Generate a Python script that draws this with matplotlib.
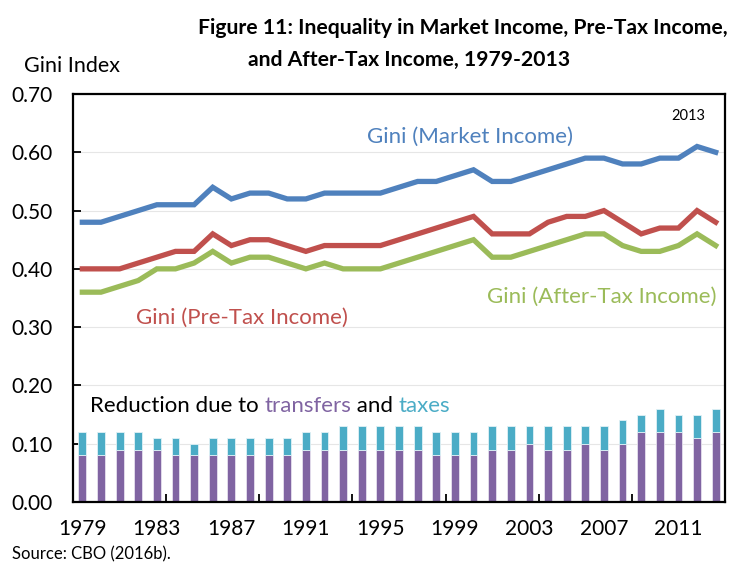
import numpy as np
import matplotlib.pyplot as plt

plt.rcParams['font.family'] = ['Lato', 'DejaVu Sans']

years = list(range(1979, 2014))

market = [0.48, 0.48, 0.49, 0.50, 0.51, 0.51, 0.51, 0.54, 0.52, 0.53, 0.53, 0.52,
          0.52, 0.53, 0.53, 0.53, 0.53, 0.54, 0.55, 0.55, 0.56, 0.57, 0.55, 0.55,
          0.56, 0.57, 0.58, 0.59, 0.59, 0.58, 0.58, 0.59, 0.59, 0.61, 0.60]
pretax = [0.40, 0.40, 0.40, 0.41, 0.42, 0.43, 0.43, 0.46, 0.44, 0.45, 0.45, 0.44,
          0.43, 0.44, 0.44, 0.44, 0.44, 0.45, 0.46, 0.47, 0.48, 0.49, 0.46, 0.46,
          0.46, 0.48, 0.49, 0.49, 0.50, 0.48, 0.46, 0.47, 0.47, 0.50, 0.48]
aftertax = [0.36, 0.36, 0.37, 0.38, 0.40, 0.40, 0.41, 0.43, 0.41, 0.42, 0.42, 0.41,
            0.40, 0.41, 0.40, 0.40, 0.40, 0.41, 0.42, 0.43, 0.44, 0.45, 0.42, 0.42,
            0.43, 0.44, 0.45, 0.46, 0.46, 0.44, 0.43, 0.43, 0.44, 0.46, 0.44]
# total reduction (market - after tax) and the part due to transfers
total_red = [0.12, 0.12, 0.12, 0.12, 0.11, 0.11, 0.10, 0.11, 0.11, 0.11, 0.11, 0.11,
             0.12, 0.12, 0.13, 0.13, 0.13, 0.13, 0.13, 0.12, 0.12, 0.12, 0.13, 0.13,
             0.13, 0.13, 0.13, 0.13, 0.13, 0.14, 0.15, 0.16, 0.15, 0.15, 0.16]
transfers = [0.08, 0.08, 0.09, 0.09, 0.09, 0.08, 0.08, 0.08, 0.08, 0.08, 0.08, 0.08,
             0.09, 0.09, 0.09, 0.09, 0.09, 0.09, 0.09, 0.08, 0.08, 0.08, 0.09, 0.09,
             0.10, 0.09, 0.09, 0.10, 0.09, 0.10, 0.12, 0.12, 0.12, 0.11, 0.12]
taxes = [t - tr for t, tr in zip(total_red, transfers)]

blue = '#4F81BD'
red = '#C0504D'
green = '#9BBB59'
purple = '#8064A2'
cyan = '#4BACC6'

fig = plt.figure(figsize=(7.31, 5.62), dpi=100)
ax = fig.add_axes([0.0999, 0.1068, 0.8919, 0.7259])

x = np.arange(len(years))
ax.bar(x, transfers, width=0.42, color=purple, edgecolor='#E6E0EE', linewidth=0.6, zorder=2)
ax.bar(x, taxes, bottom=transfers, width=0.42, color=cyan, edgecolor='#E0F1F6',
       linewidth=0.6, zorder=2)

ax.plot(x, market, color=blue, lw=3.8, zorder=3, solid_joinstyle='miter')
ax.plot(x, pretax, color=red, lw=3.8, zorder=3, solid_joinstyle='miter')
ax.plot(x, aftertax, color=green, lw=3.8, zorder=3, solid_joinstyle='miter')

ax.set_xlim(-0.5, len(years) - 0.5)
ax.set_ylim(0, 0.70)
ax.set_yticks(np.arange(0, 0.71, 0.1))
ax.set_yticklabels(['%.2f' % v for v in np.arange(0, 0.71, 0.1)])
ax.yaxis.grid(True, color='#E6E6E6', lw=0.8, zorder=0)
ax.set_axisbelow(True)

ax.set_xticks(x[::4])
ax.set_xticklabels([str(y) for y in years[::4]])
ax.set_xticks(np.arange(4.5, len(years) - 1, 5), minor=True)
ax.tick_params(axis='x', which='major', length=0, labelsize=15, pad=12)
ax.tick_params(axis='x', which='minor', direction='in', length=6, width=1.3)
ax.tick_params(axis='y', direction='in', length=6, width=1.3, labelsize=15, pad=15)
for s in ax.spines.values():
    s.set_linewidth(1.6)
    s.set_color('black')

ax.text(15.3, 0.626, 'Gini (Market Income)', color=blue, fontsize=16, ha='left', va='center')
ax.text(2.9, 0.316, 'Gini (Pre-Tax Income)', color=red, fontsize=16, ha='left', va='center')
ax.text(21.7, 0.352, 'Gini (After-Tax Income)', color=green, fontsize=16, ha='left', va='center')
ax.text(31.6, 0.662, '2013', color='black', fontsize=10.5, ha='left', va='center')

t1 = ax.text(0.4, 0.165, 'Reduction due to ', color='black', fontsize=16, va='center')
fig.canvas.draw()
t2 = ax.annotate('transfers', xycoords=t1, xy=(1, 0), va='bottom', color=purple, fontsize=16)
t3 = ax.annotate(' and ', xycoords=t2, xy=(1, 0), va='bottom', color='black', fontsize=16)
ax.annotate('taxes', xycoords=t3, xy=(1, 0), va='bottom', color=cyan, fontsize=16)

fig.text(0.996, 0.950, 'Figure 11: Inequality in Market Income, Pre-Tax Income,',
         fontsize=15.2, fontweight='bold', ha='right', va='center')
fig.text(0.559, 0.893, 'and After-Tax Income, 1979-2013',
         fontsize=15.2, fontweight='bold', ha='center', va='center')
fig.text(0.033, 0.882, 'Gini Index', fontsize=15.5, ha='left', va='center')
fig.text(0.016, 0.014, 'Source: CBO (2016b).', fontsize=12, ha='left', va='center')

fig.savefig('out.png', dpi=100)
